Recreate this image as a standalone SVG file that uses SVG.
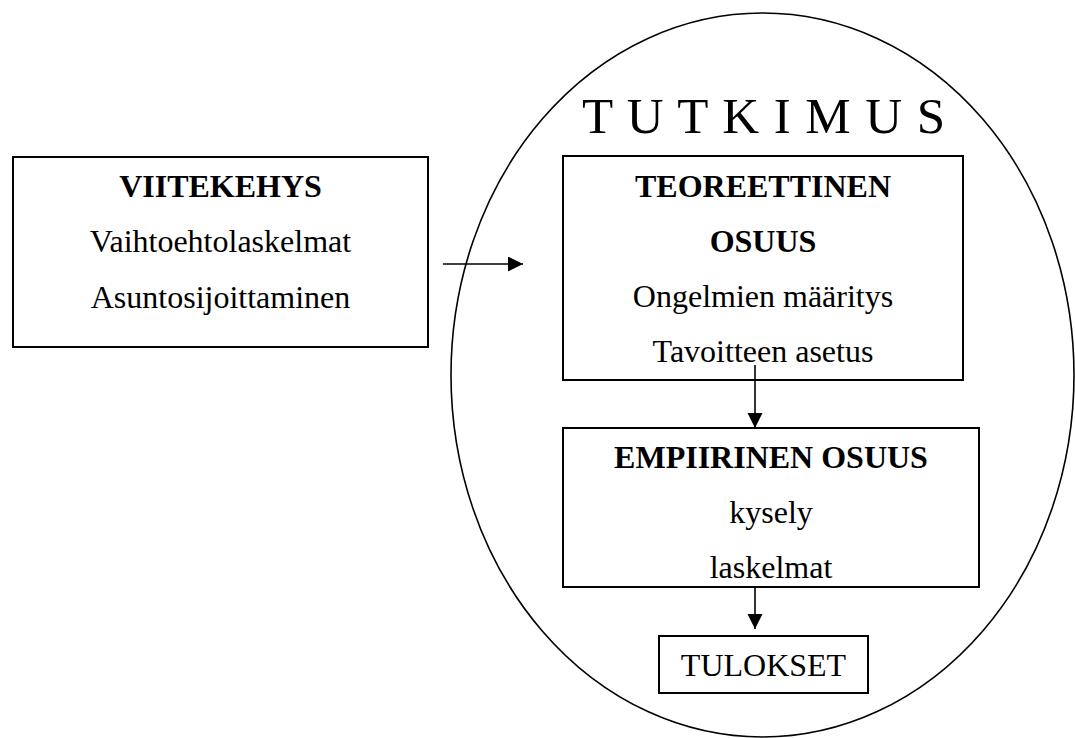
<svg xmlns="http://www.w3.org/2000/svg" width="1075" height="738" viewBox="0 0 1075 738">
<style>
.box{fill:#fff;stroke:#000;stroke-width:2}
.t{font-family:"Liberation Serif","Times New Roman",serif;font-size:32px;fill:#000;text-anchor:middle}
.b{font-weight:bold}
.c{stroke:#000;stroke-width:1.6;fill:none}
</style>
<defs>
<marker id="ah" markerUnits="userSpaceOnUse" markerWidth="16" markerHeight="16" refX="15" refY="7.5" orient="auto">
<path d="M0,0 L15,7.5 L0,15 z" fill="#000"/>
</marker>
</defs>
<rect width="1075" height="738" fill="#fff"/>
<g id="tutkimus">
<ellipse cx="762.5" cy="375" rx="311.5" ry="362" fill="none" stroke="#000" stroke-width="1.6"/>
<text x="582" y="133" font-family="Liberation Serif, 'Times New Roman', serif" font-size="51" textLength="363" lengthAdjust="spacing">T U T K I M U S</text>
</g>
<g id="viitekehys">
<rect class="box" x="13" y="157" width="415" height="190"/>
<text class="t b" x="220.5" y="197">VIITEKEHYS</text>
<text class="t" x="220.5" y="252">Vaihtoehtolaskelmat</text>
<text class="t" x="220.5" y="308">Asuntosijoittaminen</text>
</g>
<g id="teoreettinen">
<rect class="box" x="563" y="156" width="400" height="224"/>
<text class="t b" x="763" y="197">TEOREETTINEN</text>
<text class="t b" x="763" y="252">OSUUS</text>
<text class="t" x="763" y="307">Ongelmien määritys</text>
<text class="t" x="763" y="362">Tavoitteen asetus</text>
</g>
<g id="empiirinen">
<rect class="box" x="563" y="428" width="416" height="159"/>
<text class="t b" x="771" y="468">EMPIIRINEN OSUUS</text>
<text class="t" x="771" y="523">kysely</text>
<text class="t" x="771" y="578">laskelmat</text>
</g>
<g id="tulokset">
<rect class="box" x="659" y="636" width="209" height="57"/>
<text class="t" x="763.5" y="676">TULOKSET</text>
</g>
<g id="connectors">
<line class="c" x1="443" y1="264" x2="523" y2="264" marker-end="url(#ah)"/>
<line class="c" x1="755" y1="365" x2="755" y2="428" marker-end="url(#ah)"/>
<line class="c" x1="755" y1="588" x2="755" y2="629" marker-end="url(#ah)"/>
</g>
</svg>
